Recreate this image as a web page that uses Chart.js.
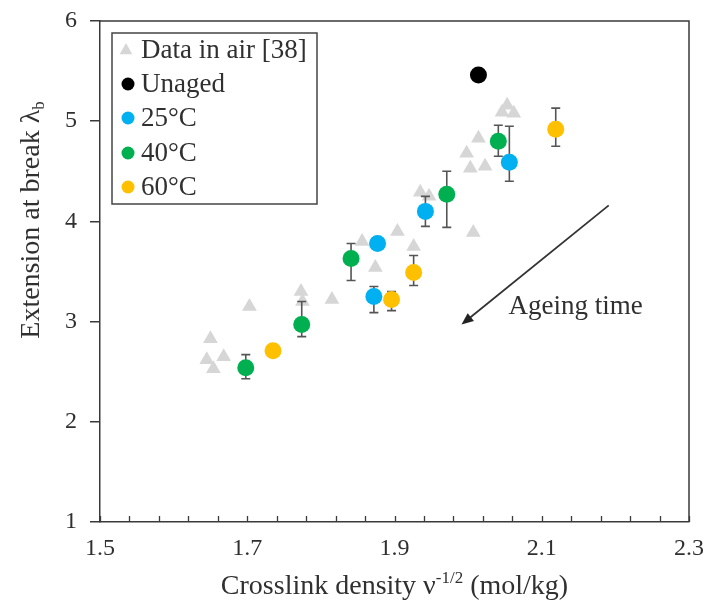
<!DOCTYPE html>
<html><head><meta charset="utf-8">
<script src="https://cdn.jsdelivr.net/npm/chart.js@4"></script>
<style>html,body{margin:0;padding:0;background:#fff}</style>
</head><body>
<canvas id="c" width="706" height="607"></canvas>
<script>
const xTicks=[1.5,1.7,1.9,2.1,2.3];
const yTicks=[1,2,3,4,5,6];
const airX=[1.650,1.645,1.654,1.668,1.703,1.773,1.775,1.815,1.856,1.874,1.904,1.926,1.935,1.947,1.998,2.003,2.014,2.023,2.007,2.046,2.053,2.062];
const airY=[2.83,2.62,2.53,2.65,3.15,3.30,3.20,3.22,3.80,3.54,3.90,3.75,4.29,4.25,4.68,4.53,4.83,4.55,3.89,5.09,5.16,5.08];
const unagedX=[2.014];
const unagedY=[5.46];
const t25X=[1.872,1.877,1.942,2.056];
const t25Y=[3.25,3.78,4.10,4.59];
const t25Lo=[3.09,3.78,3.95,4.40];
const t25Hi=[3.35,3.78,4.25,4.95];
const t40X=[1.698,1.774,1.841,1.971,2.041];
const t40Y=[2.54,2.97,3.63,4.27,4.80];
const t40Lo=[2.43,2.85,3.41,3.94,4.65];
const t40Hi=[2.67,3.20,3.78,4.50,4.96];
const t60X=[1.735,1.896,1.926,2.119];
const t60Y=[2.71,3.22,3.49,4.92];
const t60Lo=[2.71,3.11,3.36,4.75];
const t60Hi=[2.71,3.30,3.66,5.13];
const arrowFrom=[2.191,4.16];
const arrowTo=[1.991,2.97];
const noteText='Ageing time';
const notePos=[2.055,3.08];

const FONT="'Liberation Serif','Times New Roman',serif";
const TXT='#303030';
const AX='#3a3a3a';
const pts=(xs,ys)=>xs.map((x,i)=>({x:x,y:ys[i]}));

function ds(label,xs,ys,color,style,r,order,lo,hi){
  return {label:label,data:pts(xs,ys),pointStyle:style,pointRadius:r,pointHoverRadius:r,
    backgroundColor:color,borderColor:color,pointBorderWidth:0,showLine:false,order:order,errLo:lo,errHi:hi};
}
const datasets=[
  ds('Data in air [38]',airX,airY,'#d6d6d6','triangle',8.5,10),
  ds('Unaged',unagedX,unagedY,'#000000','circle',8.5,0),
  ds('25°C',t25X,t25Y,'#00b0f0','circle',8.5,0,t25Lo,t25Hi),
  ds('40°C',t40X,t40Y,'#00b050','circle',8.5,0,t40Lo,t40Hi),
  ds('60°C',t60X,t60Y,'#ffc000','circle',8.5,0,t60Lo,t60Hi)
];

const errPlugin={id:'err',beforeDatasetDraw(chart,args){
  const d=chart.data.datasets[args.index];
  if(!d.errLo)return;
  const xs=chart.scales.x, ys=chart.scales.y, ctx=chart.ctx;
  ctx.save();ctx.strokeStyle='#555555';ctx.lineWidth=1.6;
  d.data.forEach((p,i)=>{
    if(d.errLo[i]===d.errHi[i])return;
    const px=xs.getPixelForValue(p.x), y1=ys.getPixelForValue(d.errLo[i]), y2=ys.getPixelForValue(d.errHi[i]);
    ctx.beginPath();ctx.moveTo(px,y1);ctx.lineTo(px,y2);
    ctx.moveTo(px-4.5,y1);ctx.lineTo(px+4.5,y1);
    ctx.moveTo(px-4.5,y2);ctx.lineTo(px+4.5,y2);ctx.stroke();
  });
  ctx.restore();
}};

const framePlugin={id:'frame',afterDraw(chart){
  const a=chart.chartArea, ctx=chart.ctx, xs=chart.scales.x, ys=chart.scales.y;
  ctx.save();
  ctx.strokeStyle=AX;ctx.lineWidth=1.5;
  ctx.beginPath();ctx.moveTo(a.left,a.top);ctx.lineTo(a.right,a.top);ctx.lineTo(a.right,a.bottom);ctx.stroke();
  // inner minor ticks on x axis
  ctx.beginPath();
  for(let k=0;k<=20;k++){const v=1.5+k*0.04;const px=Math.round(xs.getPixelForValue(v))+0.5;ctx.moveTo(px,a.bottom);ctx.lineTo(px,a.bottom-6);}
  ctx.lineWidth=1.3;ctx.stroke();
  // arrow
  const x1=xs.getPixelForValue(arrowFrom[0]),y1=ys.getPixelForValue(arrowFrom[1]);
  const x2=xs.getPixelForValue(arrowTo[0]),y2=ys.getPixelForValue(arrowTo[1]);
  ctx.strokeStyle='#333';ctx.fillStyle='#222';ctx.lineWidth=1.8;
  const ang=Math.atan2(y2-y1,x2-x1);
  ctx.beginPath();ctx.moveTo(x1,y1);ctx.lineTo(x2-8*Math.cos(ang),y2-8*Math.sin(ang));ctx.stroke();
  ctx.beginPath();ctx.moveTo(x2,y2);
  ctx.lineTo(x2-12*Math.cos(ang)+5*Math.sin(ang),y2-12*Math.sin(ang)-5*Math.cos(ang));
  ctx.lineTo(x2-12*Math.cos(ang)-5*Math.sin(ang),y2-12*Math.sin(ang)+5*Math.cos(ang));
  ctx.closePath();ctx.fill();
  // note
  ctx.fillStyle=TXT;ctx.font='27px '+FONT;ctx.textBaseline='alphabetic';ctx.textAlign='left';
  ctx.fillText(noteText,xs.getPixelForValue(notePos[0]),ys.getPixelForValue(notePos[1]));
  // axis titles
  const xt1='Crosslink density ν', xsup='-1/2', xt2=' (mol/kg)';
  ctx.font='28px '+FONT;const w1=ctx.measureText(xt1).width, w3=ctx.measureText(xt2).width;
  ctx.font='17px '+FONT;const w2=ctx.measureText(xsup).width;
  let sx=(a.left+a.right)/2-(w1+w2+w3)/2; const by=594;
  ctx.font='28px '+FONT;ctx.fillText(xt1,sx,by);
  ctx.font='17px '+FONT;ctx.fillText(xsup,sx+w1,by-11);
  ctx.font='28px '+FONT;ctx.fillText(xt2,sx+w1+w2,by);
  ctx.save();ctx.translate(39,220);ctx.rotate(-Math.PI/2);
  const yt='Extension at break λ', ysub='b';
  ctx.font='28px '+FONT;const yw1=ctx.measureText(yt).width;ctx.font='17px '+FONT;const yw2=ctx.measureText(ysub).width;
  const ysx=-(yw1+yw2)/2;
  ctx.font='28px '+FONT;ctx.fillText(yt,ysx,0);
  ctx.font='17px '+FONT;ctx.fillText(ysub,ysx+yw1,5);
  ctx.restore();
  // legend
  const L=112,T=33,R=317,B=204;
  ctx.fillStyle='#fff';ctx.fillRect(L,T,R-L,B-T);
  ctx.strokeStyle='#444';ctx.lineWidth=1.5;ctx.strokeRect(L,T,R-L,B-T);
  const rows=[50,84,118,153,187];
  chart.data.datasets.forEach((d,i)=>{
    ctx.fillStyle=d.backgroundColor;
    ctx.beginPath();
    if(d.pointStyle==='triangle'){
      const r=7;ctx.moveTo(126,rows[i]-r);ctx.lineTo(126+r*0.9,rows[i]+r*0.6);ctx.lineTo(126-r*0.9,rows[i]+r*0.6);ctx.closePath();
    } else {ctx.arc(128,rows[i],6.5,0,Math.PI*2);}
    ctx.fill();
    ctx.fillStyle=TXT;ctx.font='27px '+FONT;ctx.textBaseline='middle';ctx.textAlign='left';
    ctx.fillText(d.label,141,rows[i]+1);
  });
  ctx.restore();
}};

new Chart(document.getElementById('c'),{
  type:'scatter',
  data:{datasets:datasets},
  options:{
    responsive:false,animation:false,
    layout:{padding:{left:0,right:17,top:21,bottom:0}},
    plugins:{legend:{display:false},tooltip:{enabled:false}},
    scales:{
      x:{type:'linear',min:1.5,max:2.3,
        afterBuildTicks:s=>{s.ticks=xTicks.map(v=>({value:v}));},
        afterFit:s=>{s.height=85;s.paddingLeft=0;s.paddingRight=0;},
        ticks:{font:{family:FONT,size:24},color:TXT,padding:12,maxRotation:0,autoSkip:false,callback:v=>Number(v).toFixed(1)},
        grid:{display:true,drawOnChartArea:false,drawTicks:false,color:AX,lineWidth:1.5},
        border:{display:true,color:AX,width:1.5}},
      y:{type:'linear',min:1,max:6,
        afterBuildTicks:s=>{s.ticks=yTicks.map(v=>({value:v}));},
        afterFit:s=>{s.width=100;s.paddingTop=0;s.paddingBottom=0;},
        ticks:{font:{family:FONT,size:24},color:TXT,padding:13,callback:v=>String(v)},
        grid:{display:true,drawOnChartArea:false,drawTicks:true,tickLength:10,color:AX,lineWidth:1.5},
        border:{display:true,color:AX,width:1.5}}
    }
  },
  plugins:[errPlugin,framePlugin]
});
</script>
</body></html>
